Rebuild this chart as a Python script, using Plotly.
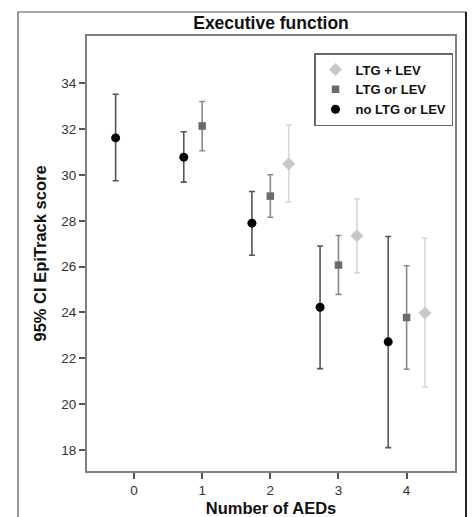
import plotly.graph_objects as go

aeds = [0, 1, 2, 3, 4]

no_x = [0, 1, 2, 3, 4]
no_mean = [31.62, 30.78, 27.9, 24.23, 22.72]
no_hi = [33.53, 31.89, 29.28, 26.9, 27.32]
no_lo = [29.75, 29.69, 26.5, 21.55, 18.1]

or_x = [1, 2, 3, 4]
or_mean = [32.14, 29.08, 26.07, 23.78]
or_hi = [33.21, 30.01, 27.36, 26.04]
or_lo = [31.06, 28.16, 24.79, 21.52]

both_x = [2, 3, 4]
both_mean = [30.49, 27.35, 23.98]
both_hi = [32.18, 28.96, 27.24]
both_lo = [28.83, 25.73, 20.75]

series = [
    ("LTG + LEV", both_x, both_mean, both_hi, both_lo, 0.27, "diamond", 10, "#c8c8c8", "#d8d8d8"),
    ("LTG or LEV", or_x, or_mean, or_hi, or_lo, 0.0, "square", 7.5, "#6a6a6a", "#8a8a8a"),
    ("no LTG or LEV", no_x, no_mean, no_hi, no_lo, -0.27, "circle", 9, "#000000", "#555555"),
]

fig = go.Figure()
for name, xs, m, hi, lo, off, sym, size, col, ecol in series:
    fig.add_trace(go.Scatter(
        x=[x + off for x in xs], y=m, mode="markers", name=name,
        marker=dict(symbol=sym, size=size, color=col, line=dict(width=0)),
        error_y=dict(type="data", symmetric=False,
                     array=[h - v for h, v in zip(hi, m)],
                     arrayminus=[v - l for v, l in zip(m, lo)],
                     color=ecol, thickness=1.6, width=3),
    ))

font = "Liberation Sans, Arial, sans-serif"
fig.update_layout(
    width=472, height=517,
    margin=dict(l=87, r=17, t=36, b=46, autoexpand=False),
    paper_bgcolor="white", plot_bgcolor="white",
    font=dict(family=font, size=12, color="#222"),
    title=dict(text="<b>Executive function</b>", x=(87 + 368 / 2) / 472, xanchor="center",
               y=1 - 23 / 517, yanchor="middle", font=dict(size=17.5, color="#111")),
    showlegend=True,
    legend=dict(x=(314 - 87) / 368, y=(471 - 53) / 435, xanchor="left", yanchor="top",
                bgcolor="white", bordercolor="#666", borderwidth=1.5,
                font=dict(size=13, color="#111", weight="bold"), tracegroupgap=0,
                itemwidth=30),
)
fig.update_xaxes(range=[-0.69, 4.71], tickvals=aeds, ticktext=[str(a) for a in aeds],
                 ticks="outside", ticklen=6, tickcolor="#555", tickwidth=1.5,
                 showline=True, linecolor="#808080", linewidth=2, mirror=True,
                 showgrid=False, zeroline=False, tickfont=dict(size=13.5, color="#333"),
                 automargin=False,
                 title=dict(text="<b>Number of AEDs</b>", font=dict(size=16.5, color="#111"), standoff=7))
fig.update_yaxes(range=[17.08, 36.07], tickvals=[18, 20, 22, 24, 26, 28, 30, 32, 34],
                 ticks="outside", ticklen=6, tickcolor="#555", tickwidth=1.5,
                 showline=True, linecolor="#808080", linewidth=2, mirror=True,
                 showgrid=False, zeroline=False, tickfont=dict(size=13.5, color="#333"),
                 automargin=False,
                 title=dict(text="<b>95% CI EpiTrack score</b>", font=dict(size=16.5, color="#111"), standoff=10))

# outer frame
fig.add_shape(type="rect", xref="paper", yref="paper",
              x0=(18 - 87) / 368, x1=(466 - 87) / 368,
              y0=-0.3, y1=(471 - 12) / 435,
              line=dict(color="#555", width=1.2), fillcolor="rgba(0,0,0,0)", layer="below")
fig.add_shape(type="line", xref="paper", yref="paper",
              x0=(466 - 87) / 368, x1=(466 - 87) / 368,
              y0=-0.3, y1=(471 - 12) / 435,
              line=dict(color="#222", width=2))

fig.write_html("out.html", config={"displayModeBar": False},
               post_script="document.body.style.margin='0';document.body.style.padding='0';")
